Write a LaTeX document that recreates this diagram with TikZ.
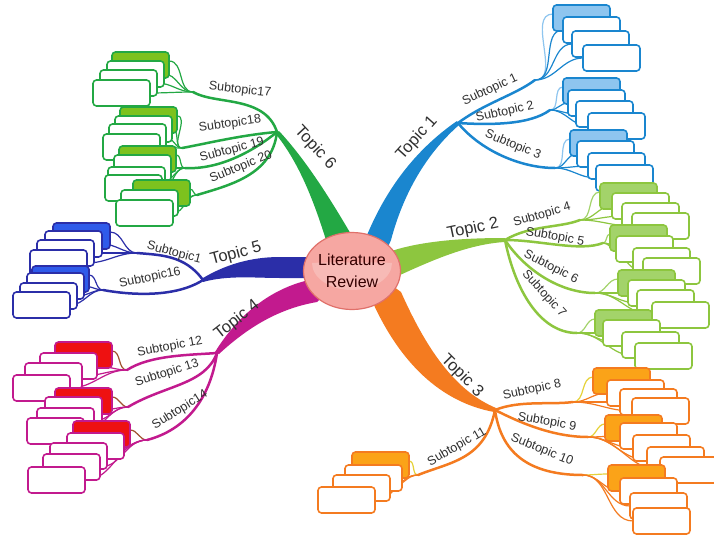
\documentclass[tikz,border=0pt]{standalone}
\usepackage{fontspec}
\setmainfont{Liberation Sans}
\usetikzlibrary{shapes.geometric}
\definecolor{cA}{HTML}{1A86CF}\definecolor{fA}{HTML}{8EC5EF}
\definecolor{cB}{HTML}{8DC63F}\definecolor{fB}{HTML}{A3D36A}
\definecolor{cC}{HTML}{F47B20}\definecolor{fC}{HTML}{FBA318}\definecolor{yC}{HTML}{E6D23A}
\definecolor{cD}{HTML}{C21A8E}\definecolor{fD}{HTML}{EE1111}\definecolor{yD}{HTML}{A0522D}
\definecolor{cE}{HTML}{2B2EA8}\definecolor{fE}{HTML}{2F5BEA}
\definecolor{cF}{HTML}{23A844}\definecolor{fF}{HTML}{7DC21E}
\definecolor{txt}{HTML}{303030}
\definecolor{ellfill}{HTML}{F6A7A2}\definecolor{elldraw}{HTML}{E0706A}
\tikzset{
  sub/.style={line width=2.5pt,line cap=round},
  fan/.style={line width=1.2pt},
  card/.style={line width=1.6pt,rounded corners=3.5pt},
  sublabel/.style={font=\fontsize{12.5}{14}\selectfont,text=txt,inner sep=0pt},
  toplabel/.style={font=\fontsize{16.5}{18}\selectfont,text=txt,inner sep=0pt},
}
% right-facing stack: #1 junction, #2 border, #3 fill, #4 first fan colour, #5 list
\newcommand\stackR[5]{%
  \foreach \cx/\cy [count=\k] in {#5}{%
    \ifnum\k=1\relax
      \draw[fan,draw=#4] #1 to[out=0,in=180] (\cx,\cy+9);
    \else
      \draw[fan,draw=#2] #1 to[out=0,in=180] (\cx,\cy+13);
    \fi}%
  \foreach \cx/\cy [count=\k] in {#5}{%
    \ifnum\k=1\relax
      \filldraw[card,draw=#2,fill=#3] (\cx,\cy) rectangle ++(57,26);
    \else
      \filldraw[card,draw=#2,fill=white] (\cx,\cy) rectangle ++(57,26);
    \fi}%
}
\newcommand\stackL[5]{%
  \foreach \cx/\cy [count=\k] in {#5}{%
    \ifnum\k=1\relax
      \draw[fan,draw=#4] #1 to[out=180,in=0] (\cx+57,\cy+9);
    \else
      \draw[fan,draw=#2] #1 to[out=180,in=0] (\cx+57,\cy+13);
    \fi}%
  \foreach \cx/\cy [count=\k] in {#5}{%
    \ifnum\k=1\relax
      \filldraw[card,draw=#2,fill=#3] (\cx,\cy) rectangle ++(57,26);
    \else
      \filldraw[card,draw=#2,fill=white] (\cx,\cy) rectangle ++(57,26);
    \fi}%
}
\begin{document}
\begin{tikzpicture}[x=1pt,y=-1pt]
\useasboundingbox (0,0) rectangle (714,543);
\clip (0,0) rectangle (714,543);
\fill[white] (0,0) rectangle (714,543);

% junctions
\coordinate (T1) at (458,123);
\coordinate (T2) at (505,240);
\coordinate (T3) at (495,410);
\coordinate (T4) at (217,353);
\coordinate (T5) at (203,280);
\coordinate (T6) at (277,132);

% trunks
\fill[cA] (360,252) -- (365,240) .. controls (385,190) and (415,150) .. (457,121) -- (459,125) .. controls (425,155) and (403,195) .. (391,240) -- (385,254) -- cycle;
\fill[cB] (385,253) -- (398,249) .. controls (430,240) and (470,238) .. (505,238) -- (505,242) .. controls (470,244) and (435,259) .. (400,275) -- (385,276) -- cycle;
\fill[cC] (366,292) -- (373,303) .. controls (400,362) and (440,402) .. (494,412) -- (496,408) .. controls (458,392) and (429,355) .. (401,292) -- (390,284) -- cycle;
\fill[cD] (322,278) -- (309,280) .. controls (270,289) and (238,315) .. (215,352) -- (219,354) .. controls (245,330) and (276,309) .. (317,302) -- (326,294) -- cycle;
\fill[cE] (322,257) -- (280,257) .. controls (250,257) and (225,265) .. (203,278) -- (203,282) .. controls (228,275) and (255,278) .. (280,278) -- (322,278) -- cycle;
\fill[cF] (332,252) -- (326,240) .. controls (312,195) and (297,160) .. (275,133) -- (279,131) .. controls (306,160) and (331,200) .. (352,236) -- (350,252) -- cycle;

% central node
\node[ellipse,draw=elldraw,line width=1.2pt,fill=ellfill,minimum width=97pt,minimum height=77pt] (lit) at (352,271) {};
\fill[white,opacity=0.22] (312,263) arc[start angle=180,end angle=0,x radius=40,y radius=27] .. controls (380,262) and (324,262) .. cycle;
\node[align=center,font=\fontsize{16}{22}\selectfont,text=black!80!red,inner sep=0pt] (littext) at (lit.center) {Literature\\Review};

% ---------- Topic 1 ----------
\coordinate (j1) at (535,80);
\coordinate (j2) at (550,110);
\coordinate (j3) at (555,168);
\draw[sub,cA] (T1) .. controls (485,103) and (515,95) .. (j1);
\draw[sub,cA] (T1) .. controls (490,125) and (530,125) .. (j2);
\draw[sub,cA] (T1) .. controls (480,150) and (520,168) .. (j3);
\stackR{(j1)}{cA}{fA}{fA}{553/5,563/17,572/31,583/45}
\stackR{(j2)}{cA}{fA}{fA}{563/78,568/90,576/101,588/113}
\stackR{(j3)}{cA}{fA}{fA}{570/130,577/141,588/153,596/165}

% ---------- Topic 2 ----------
\coordinate (j4) at (580,220);
\coordinate (j5) at (603,243);
\coordinate (j6) at (595,293);
\coordinate (j7) at (577,333);
\draw[sub,cB] (T2) .. controls (530,225) and (560,228) .. (j4);
\draw[sub,cB] (T2) .. controls (540,240) and (580,252) .. (j5);
\draw[sub,cB] (T2) .. controls (525,270) and (560,293) .. (j6);
\draw[sub,cB] (T2) .. controls (515,290) and (540,333) .. (j7);
\stackR{(j4)}{cB}{fB}{fB}{600/183,612/193,622/203,632/213}
\stackR{(j5)}{cB}{fB}{fB}{610/225,616/236,633/248,643/258}
\stackR{(j6)}{cB}{fB}{fB}{618/270,628/280,637/290,652/302}
\stackR{(j7)}{cB}{fB}{fB}{595/310,603/320,622/332,635/343}

% ---------- Topic 3 ----------
\coordinate (j8) at (573,402);
\coordinate (j9) at (588,437);
\coordinate (j10) at (583,475);
\coordinate (j11) at (418,475);
\draw[sub,cC] (T3) .. controls (520,400) and (550,405) .. (j8);
\draw[sub,cC] (T3) .. controls (515,420) and (550,437) .. (j9);
\draw[sub,cC] (T3) .. controls (500,445) and (520,475) .. (j10);
\draw[sub,cC] (T3) .. controls (485,460) and (450,462) .. (j11);
\stackR{(j8)}{cC}{fC}{yC}{593/368,607/380,620/389,632/398}
\stackR{(j9)}{cC}{fC}{yC}{605/415,620/423,633/435,647/447,660/457}
\stackR{(j10)}{cC}{fC}{yC}{608/465,620/478,630/493,633/508}
\stackL{(j11)}{cC}{fC}{yC}{352/452,345/465,333/475,318/487}

% ---------- Topic 4 ----------
\coordinate (j12) at (127,370);
\coordinate (j13) at (128,407);
\coordinate (j14) at (147,440);
\draw[sub,cD] (T4) .. controls (190,355) and (150,355) .. (j12);
\draw[sub,cD] (T4) .. controls (205,385) and (165,385) .. (j13);
\draw[sub,cD] (T4) .. controls (210,400) and (185,430) .. (j14);
\stackL{(j12)}{cD}{fD}{yD}{55/342,40/353,25/363,13/375}
\stackL{(j13)}{cD}{fD}{yD}{55/388,45/397,37/408,27/418}
\stackL{(j14)}{cD}{fD}{yD}{73/421,67/433,50/443,43/454,28/467}

% ---------- Topic 5 ----------
\coordinate (j15) at (137,253);
\coordinate (j16) at (103,290);
\draw[sub,cE] (T5) .. controls (185,255) and (160,255) .. (j15);
\draw[sub,cE] (T5) .. controls (175,298) and (130,295) .. (j16);
\stackL{(j15)}{cE}{fE}{cE}{53/223,45/231,37/240,30/250}
\stackL{(j16)}{cE}{fE}{cE}{32/266,27/273,20/283,13/292}

% ---------- Topic 6 ----------
\coordinate (j17) at (193,92);
\coordinate (j18) at (182,148);
\coordinate (j19) at (185,168);
\coordinate (j20) at (197,195);
\draw[sub,cF] (T6) .. controls (265,95) and (215,105) .. (j17);
\draw[sub,cF] (T6) .. controls (240,135) and (200,145) .. (j18);
\draw[sub,cF] (T6) .. controls (255,150) and (220,170) .. (j19);
\draw[sub,cF] (T6) .. controls (272,175) and (230,185) .. (j20);
\stackL{(j17)}{cF}{fF}{cF}{112/52,107/61,100/70,93/80}
\stackL{(j18)}{cF}{fF}{cF}{120/107,115/116,109/124,103/134}
\stackL{(j19)}{cF}{fF}{cF}{119/146,114/155,108/167,105/175}
\stackL{(j20)}{cF}{fF}{cF}{133/180,121/190,116/200}

% ---------- labels ----------
\node[toplabel,rotate=48] (t1) at (417,138) {Topic 1};
\node[toplabel,rotate=12] (t2) at (473,229) {Topic 2};
\node[toplabel,rotate=-45] (t3) at (462,376) {Topic 3};
\node[toplabel,rotate=38] (t4) at (237,320) {Topic 4};
\node[toplabel,rotate=15] (t5) at (236,254) {Topic 5};
\node[toplabel,rotate=-47] (t6) at (315,148) {Topic 6};

\node[sublabel,rotate=25] (s1) at (490,90) {Subtopic 1};
\node[sublabel,rotate=13] (s2) at (505,112) {Subtopic 2};
\node[sublabel,rotate=-22] (s3) at (513,145) {Subtopic 3};
\node[sublabel,rotate=16] (s4) at (542,215) {Subtopic 4};
\node[sublabel,rotate=-10] (s5) at (555,237) {Subtopic 5};
\node[sublabel,rotate=-27] (s6) at (551,267) {Subtopic 6};
\node[sublabel,rotate=-48] (s7) at (544,294) {Subtopic 7};
\node[sublabel,rotate=12] (s8) at (532,390) {Subtopic 8};
\node[sublabel,rotate=-10] (s9) at (547,422) {Subtopic 9};
\node[sublabel,rotate=-22] (s10) at (542,450) {Subtopic 10};
\node[sublabel,rotate=30] (s11) at (457,447) {Subtopic 11};
\node[sublabel,rotate=11] (s12) at (170,347) {Subtopic 12};
\node[sublabel,rotate=18] (s13) at (167,373) {Subtopic 13};
\node[sublabel,rotate=32] (s14) at (180,410) {Subtopic14};
\node[sublabel,rotate=-15] (s15) at (174,253) {Subtopic1};
\node[sublabel,rotate=12] (s16) at (150,278) {Subtopic16};
\node[sublabel,rotate=-6] (s17) at (240,90) {Subtopic17};
\node[sublabel,rotate=8] (s18) at (230,124) {Subtopic18};
\node[sublabel,rotate=15] (s19) at (232,150) {Subtopic 19};
\node[sublabel,rotate=22] (s20) at (241,167) {Subtopic 20};
\end{tikzpicture}
\end{document}
